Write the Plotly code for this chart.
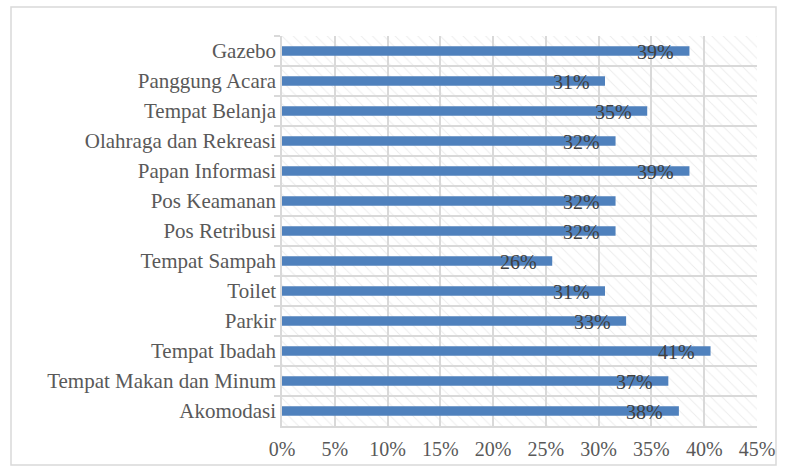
import plotly.graph_objects as go

categories = ["Gazebo", "Panggung Acara", "Tempat Belanja", "Olahraga dan Rekreasi",
              "Papan Informasi", "Pos Keamanan", "Pos Retribusi", "Tempat Sampah",
              "Toilet", "Parkir", "Tempat Ibadah", "Tempat Makan dan Minum", "Akomodasi"]
values = [0.386, 0.306, 0.346, 0.316, 0.386, 0.316, 0.316, 0.256,
          0.306, 0.326, 0.406, 0.366, 0.376]
x_ticks = [0, 0.05, 0.10, 0.15, 0.20, 0.25, 0.30, 0.35, 0.40, 0.45]
x_tick_labels = ["0%", "5%", "10%", "15%", "20%", "25%", "30%", "35%", "40%", "45%"]

FONT = "Liberation Serif"
GRID = "#d9d9d9"

fig = go.Figure()

# hatched plot-area background (decoration)
fig.add_trace(go.Scatter(
    x=[0, 1, 1, 0, 0], y=[0, 0, 1, 1, 0], mode="lines", fill="toself",
    line=dict(width=0), fillcolor="rgba(0,0,0,0)",
    fillpattern=dict(shape="\\", fgcolor="#dadada", bgcolor="rgba(0,0,0,0)",
                     size=8, solidity=0.12),
    hoverinfo="skip", showlegend=False, xaxis="x", yaxis="y"))

fig.add_trace(go.Bar(
    x=values, y=categories, orientation="h",
    marker=dict(color="#4F81BD", line=dict(width=0)),
    xaxis="x2", yaxis="y2", showlegend=False))

for c, v in zip(categories, values):
    fig.add_annotation(x=v, y=c, xref="x2", yref="y2", text=f"{round(v*100)}%",
                       showarrow=False, xshift=-34, yshift=-1, xanchor="center", yanchor="middle",
                       font=dict(family=FONT, size=20, color="#404040"))

fig.update_layout(
    width=787, height=472,
    margin=dict(l=282, r=30, t=36, b=46),
    paper_bgcolor="white", plot_bgcolor="white",
    bargap=0.68,
    font=dict(family=FONT, size=20, color="#595959"),
    xaxis=dict(range=[0, 1], visible=False, fixedrange=True),
    yaxis=dict(range=[0, 1], visible=False, fixedrange=True),
    xaxis2=dict(overlaying="x", side="bottom", range=[0, 0.45],
                tickvals=x_ticks, ticktext=x_tick_labels,
                showgrid=True, gridcolor=GRID, gridwidth=1.5,
                zeroline=False, showline=True, linecolor=GRID, linewidth=1.5,
                ticks="", ticklabelstandoff=4,
                tickfont=dict(family=FONT, size=20, color="#595959")),
    yaxis2=dict(overlaying="y", side="left", type="category",
                autorange="reversed", tickson="boundaries",
                ticks="outside", ticklen=6, tickcolor=GRID, tickwidth=1.5,
                showgrid=True, gridcolor=GRID, gridwidth=1.5,
                showline=True, linecolor=GRID, linewidth=1.5,
                tickfont=dict(family=FONT, size=21, color="#595959")),
    shapes=[dict(type="rect", xref="paper", yref="paper",
                 x0=-271/475, x1=(776-282)/475, y0=-(465-426)/390, y1=(426-7)/390,
                 line=dict(color=GRID, width=1.5), layer="below")],
)

fig.write_html("out.html", config={"displayModeBar": False},
               post_script="document.body.style.margin='0';")
